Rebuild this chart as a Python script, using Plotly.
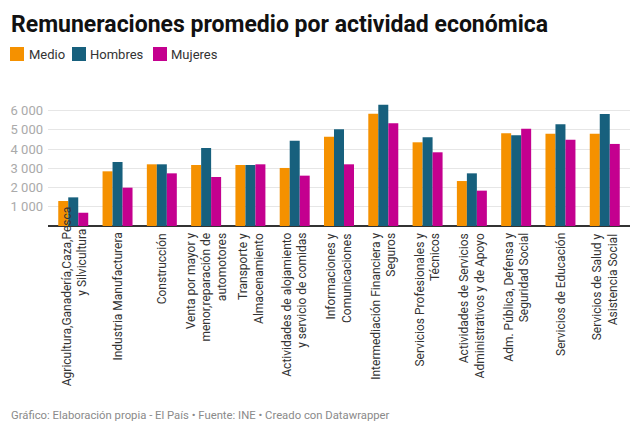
import plotly.graph_objects as go

categories = [
    "Agricultura", "Industria", "Construcción", "Venta", "Transporte",
    "Alojamiento", "Informaciones", "Intermediación", "Profesionales",
    "Administrativos", "Adm. Pública", "Educación", "Salud",
]
x_labels = [
    "Agricultura,Ganadería,Caza,Pesca<br>y Silvicultura",
    "Industria Manufacturera",
    "Construcción",
    "Venta por mayor y<br>menor,reparación de<br>automotores",
    "Transporte y<br>Almacenamiento",
    "Actividades de alojamiento<br>y servicio de comidas",
    "Informaciones y<br>Comunicaciones",
    "Intermediación Financiera y<br>Seguros",
    "Servicios Profesionales y<br>Técnicos",
    "Actividades de Servicios<br>Administrativos y de Apoyo",
    "Adm. Pública, Defensa y<br>Seguridad Social",
    "Servicios de Educación",
    "Servicios de Salud y<br>Asistencia Social",
]
series_names = ["Medio", "Hombres", "Mujeres"]
medio = [1300, 2845, 3210, 3175, 3175, 3020, 4650, 5845, 4355, 2340, 4820, 4800, 4800]
hombres = [1490, 3330, 3210, 4060, 3175, 4440, 5030, 6310, 4615, 2740, 4720, 5290, 5830]
mujeres = [690, 1995, 2740, 2550, 3210, 2620, 3210, 5345, 3835, 1840, 5060, 4490, 4270]
y_tickvals = [1000, 2000, 3000, 4000, 5000, 6000]
y_ticktext = ["1 000", "2 000", "3 000", "4 000", "5 000", "6 000"]
colors = ["#f59100", "#17607d", "#c4008f"]

FONT = "Roboto, 'Noto Sans', sans-serif"
L_MARGIN = 48
T_MARGIN = 103
PLOT_BOTTOM = 226

fig = go.Figure()
for name, vals, col in zip(series_names, [medio, hombres, mujeres], colors):
    fig.add_trace(go.Bar(x=categories, y=vals, name=name, marker_color=col,
                         marker_line_width=0, hoverinfo="skip", showlegend=False))

annotations = []
for i, (cat, lab) in enumerate(zip(categories, x_labels)):
    if i == 0:
        l1, l2 = lab.split("<br>")
        annotations.append(dict(x=cat, xref="x", y=0, yref="paper", text=l1,
                                textangle=-90, xanchor="center", yanchor="top",
                                xshift=-6, yshift=22, showarrow=False,
                                font=dict(family=FONT, size=12, color="#333")))
        annotations.append(dict(x=cat, xref="x", y=0, yref="paper", text=l2,
                                textangle=-90, xanchor="center", yanchor="top",
                                xshift=8, yshift=-1, showarrow=False,
                                font=dict(family=FONT, size=12, color="#333")))
    else:
        annotations.append(dict(x=cat, xref="x", y=0, yref="paper", text=lab,
                                textangle=-90, xanchor="center", yanchor="top",
                                align="right", yshift=-5, showarrow=False,
                                font=dict(family=FONT, size=12, color="#333")))

# legend (swatch + label), positioned in pixels relative to the plot area
legend_px = [(10, 29), (72, 90), (153, 171)]
legend_y = 54
for name, col, (sx, tx) in zip(series_names, colors, legend_px):
    annotations.append(dict(xref="paper", yref="paper", x=0, y=1,
                            xanchor="left", yanchor="middle",
                            xshift=sx - L_MARGIN, yshift=T_MARGIN - legend_y,
                            text=" ", width=14, height=14, bgcolor=col,
                            borderpad=0, borderwidth=0, showarrow=False,
                            font=dict(size=1)))
    annotations.append(dict(xref="paper", yref="paper", x=0, y=1,
                            xanchor="left", yanchor="middle",
                            xshift=tx - L_MARGIN - 1, yshift=T_MARGIN - legend_y,
                            text=name, showarrow=False, borderpad=0,
                            font=dict(family=FONT, size=13, color="#333")))

annotations.append(dict(xref="paper", yref="paper", x=0, y=0,
                        xanchor="left", yanchor="middle",
                        xshift=10 - L_MARGIN, yshift=PLOT_BOTTOM - 415,
                        text="Gráfico: Elaboración propia - El País • Fuente: INE • Creado con Datawrapper",
                        showarrow=False, borderpad=0,
                        font=dict(family=FONT, size=11.3, color="#8a8a8a")))

fig.update_layout(
    width=640, height=432,
    margin=dict(l=L_MARGIN, r=10, t=T_MARGIN, b=432 - PLOT_BOTTOM),
    paper_bgcolor="white", plot_bgcolor="white",
    barmode="group", bargap=0.323, bargroupgap=0,
    title=dict(text="<b>Remuneraciones promedio por actividad económica</b>",
               x=11 / 640, xanchor="left", xref="container",
               y=1 - 24 / 432, yanchor="middle", yref="container",
               font=dict(family=FONT, size=23, color="#111")),
    xaxis=dict(range=[-0.57, 12.57], showticklabels=False, showgrid=False,
               ticks="", showline=False, zeroline=False, fixedrange=True),
    yaxis=dict(range=[0, 6400], tickvals=y_tickvals, ticktext=y_ticktext,
               showgrid=True, gridcolor="#e6e6e6", gridwidth=1,
               zeroline=True, zerolinecolor="#333", zerolinewidth=1.5,
               showline=False, ticks="", ticklabelstandoff=4,
               tickfont=dict(family=FONT, size=13, color="#aaaaaa")),
    annotations=annotations,
    showlegend=False,
)

fig.write_html("out.html")
